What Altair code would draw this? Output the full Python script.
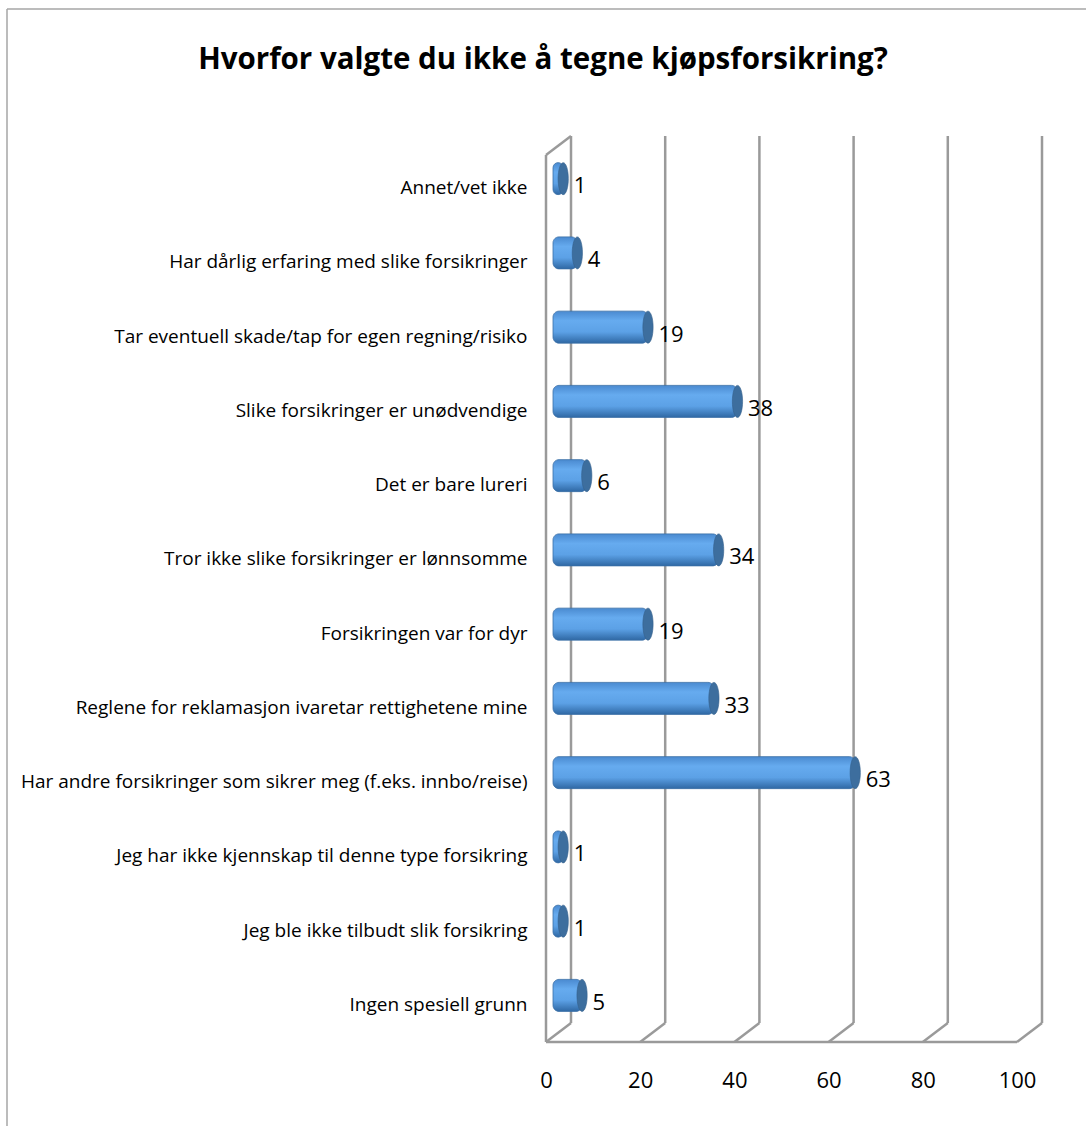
import altair as alt
import pandas as pd

categories = [
    "Annet/vet ikke",
    "Har dårlig erfaring med slike forsikringer",
    "Tar eventuell skade/tap for egen regning/risiko",
    "Slike forsikringer er unødvendige",
    "Det er bare lureri",
    "Tror ikke slike forsikringer er lønnsomme",
    "Forsikringen var for dyr",
    "Reglene for reklamasjon ivaretar rettighetene mine",
    "Har andre forsikringer som sikrer meg (f.eks. innbo/reise)",
    "Jeg har ikke kjennskap til denne type forsikring",
    "Jeg ble ikke tilbudt slik forsikring",
    "Ingen spesiell grunn",
]
values = [1, 4, 19, 38, 6, 34, 19, 33, 63, 1, 1, 5]
ticks = [0, 20, 40, 60, 80, 100]
title_text = "Hvorfor valgte du ikke å tegne kjøpsforsikring?"

W, H = 471, 891
DX, DY = 25, -19  # 3D depth offset (front -> back)

df = pd.DataFrame({"cat": categories, "value": values, "start": [0] * len(values)})
tdf = pd.DataFrame({"t": ticks})

xs = alt.Scale(domain=[0, 100], nice=False, zero=True)
ys = alt.Scale(domain=categories, paddingInner=0, paddingOuter=0)

GRID = "#9a9a9a"

back = alt.Chart(tdf).mark_rule(color=GRID, strokeWidth=2.5, xOffset=DX, x2Offset=DX).encode(
    x=alt.X("t:Q", scale=xs, axis=alt.Axis(values=ticks, grid=False, domain=False, ticks=False,
                                           labelFontSize=22, labelColor="black", labelPadding=28,
                                           labelFont="Open Sans", title=None, labelFlush=False)),
    y=alt.value(-15), y2=alt.value(H + DY),
)
diag = alt.Chart(tdf).mark_rule(color=GRID, strokeWidth=2.5, x2Offset=DX).encode(
    x=alt.X("t:Q", scale=xs), x2="t:Q",
    y=alt.value(H), y2=alt.value(H + DY),
)
frame = alt.Chart(pd.DataFrame({"a": [0]})).mark_rule(color=GRID, strokeWidth=2.5).encode(
    x=alt.value(0), x2=alt.value(W), y=alt.value(H), y2=alt.value(H))
front_left = alt.Chart(pd.DataFrame({"a": [0]})).mark_rule(color=GRID, strokeWidth=2.5).encode(
    x=alt.value(0), x2=alt.value(0), y=alt.value(4), y2=alt.value(H))
wall_top = alt.Chart(pd.DataFrame({"a": [0]})).mark_rule(color=GRID, strokeWidth=2.5).encode(
    x=alt.value(0), x2=alt.value(DX), y=alt.value(4), y2=alt.value(-15))

BORDER = "#a6a6a6"
border_top = alt.Chart(pd.DataFrame({"a": [0]})).mark_rule(color=BORDER, strokeWidth=1.5).encode(
    x=alt.value(-539), x2=alt.value(600), y=alt.value(-142), y2=alt.value(-142))
border_left = alt.Chart(pd.DataFrame({"a": [0]})).mark_rule(color=BORDER, strokeWidth=1.5).encode(
    x=alt.value(-539), x2=alt.value(-539), y=alt.value(-142), y2=alt.value(1000))

grad = alt.Gradient(
    gradient="linear", x1=0, x2=0, y1=0, y2=1,
    stops=[
        alt.GradientStop(color="#4a8ad0", offset=0),
        alt.GradientStop(color="#66abef", offset=0.3),
        alt.GradientStop(color="#5ca1e6", offset=0.65),
        alt.GradientStop(color="#2f68a4", offset=1),
    ],
)

bars = alt.Chart(df).mark_bar(
    height=32, cornerRadius=6, xOffset=7, x2Offset=12.5, yOffset=-9.5, fill=grad,
    stroke="#3a6fa6", strokeWidth=0.8,
).encode(
    x=alt.X("start:Q", scale=xs),
    x2="value:Q",
    y=alt.Y("cat:N", scale=ys, sort=categories,
            axis=alt.Axis(domain=False, ticks=False, labelFontSize=19, labelColor="black",
                          labelFont="Open Sans", labelPadding=19, title=None, labelLimit=600)),
)

cap_path = "M0,-1A0.32,1,0,1,1,0,1A0.32,1,0,1,1,0,-1Z"
caps = alt.Chart(df).mark_point(
    shape=cap_path, size=1024, filled=True, fill="#3d6e9e", stroke="#34608c", strokeWidth=0.6,
    opacity=1, xOffset=12.5, yOffset=-9.5,
).encode(
    x=alt.X("value:Q", scale=xs),
    y=alt.Y("cat:N", scale=ys, sort=categories),
)

labels = alt.Chart(df).mark_text(
    align="left", baseline="middle", dx=23, dy=-2, fontSize=22, font="Open Sans", color="black",
).encode(
    x=alt.X("value:Q", scale=xs),
    y=alt.Y("cat:N", scale=ys, sort=categories),
    text="value:Q",
)

title = alt.Chart(pd.DataFrame({"a": [0]})).mark_text(
    text=title_text, fontSize=29.5, fontWeight="bold", font="Open Sans", color="black",
    align="center", baseline="middle",
).encode(x=alt.value(-3), y=alt.value(-91))

chart = alt.layer(
    border_top, border_left, back, diag, frame, front_left, wall_top, bars, caps, labels, title
).properties(
    width=W, height=H,
    autosize=alt.AutoSizeParams(type="none"),
    padding={"left": 546, "top": 151, "right": 69, "bottom": 84},
    background="white",
).configure_view(stroke=None)

chart.save("out.html", embed_options={"renderer": "svg", "actions": False})
